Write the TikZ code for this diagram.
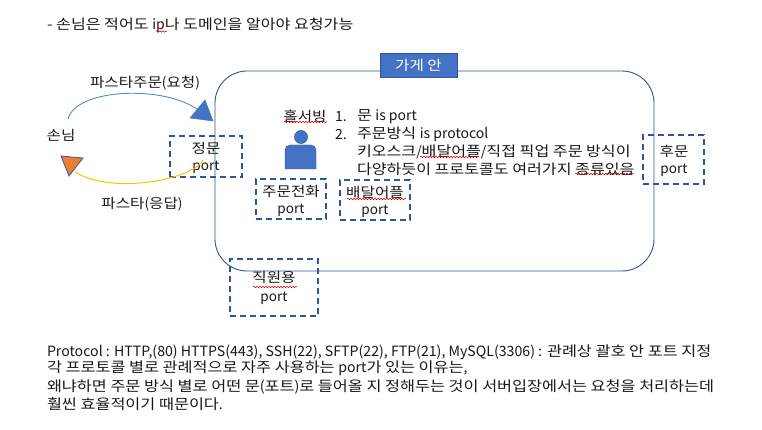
\documentclass[tikz,border=0pt]{standalone}
\usepackage{fontspec}
\setmainfont[FakeStretch=1.15]{Noto Sans CJK KR}
\newfontfamily\plainlat{Noto Sans CJK KR}
\newcommand{\ltn}[1]{{\plainlat #1}}
\usetikzlibrary{decorations.pathmorphing}
\definecolor{navy}{HTML}{2F5597}
\definecolor{blu}{HTML}{4472C4}
\definecolor{org}{HTML}{ED7D31}
\definecolor{yel}{HTML}{FFC000}
\definecolor{arcblue}{HTML}{5B85CC}
\tikzset{
 every node/.style={inner sep=0pt,outer sep=0pt,text=black!90},
 lbl/.style={font=\fontsize{13.6}{16}\selectfont,align=center,yshift=-1.5pt},
 body/.style={font=\fontsize{14}{16}\selectfont,anchor=west,yshift=-1.7pt},
 para/.style={font=\fontsize{14.15}{16}\selectfont,anchor=west,yshift=-1.7pt},
 portbox/.style={draw=navy,line width=1.7pt,dash pattern=on 6pt off 4pt},
 spell/.style={draw=red!85!black,line width=.5pt,decorate,decoration={snake,amplitude=.8pt,segment length=3pt}},
}
\begin{document}
\begin{tikzpicture}[x=1pt,y=-1pt]
\useasboundingbox (0,0) rectangle (762,430);
\fill[white] (0,0) rectangle (762,430);
% store outline
\draw[navy,line width=.9pt,rounded corners=32pt] (215,71) rectangle (654,271);
\node[draw=navy,fill=blu,line width=.8pt,minimum width=77pt,minimum height=24pt,text=white,font=\fontsize{13.6}{16}\selectfont] (store) at (418.5,65) {가게 안};

\node[body] (top) at (47,24) {- 손님은 적어도 \ltn{ip}나 도메인을 알아야 요청가능};
\node[lbl] (guest) at (61,134) {손님};
\node[lbl] (reqlabel) at (145,82) {파스타주문\ltn{(}요청\ltn{)}};
\node[lbl] (reslabel) at (142,203) {파스타\ltn{(}응답\ltn{)}};

% port boxes
\node[portbox,minimum width=72pt,minimum height=41pt] (front) at (206,156.5) {};
\node[portbox,minimum width=70pt,minimum height=40pt] (phone) at (291,199) {};
\node[portbox,minimum width=70pt,minimum height=40pt] (deliv) at (375,200) {};
\node[portbox,minimum width=61pt,minimum height=49pt] (back) at (673.5,159.5) {};
\node[portbox,minimum width=88pt,minimum height=57pt] (staff) at (274,287.5) {};

\node[lbl] at (206,147) {정문};
\node[lbl] at (206,166) {\ltn{port}};
\node[lbl] at (291,190) {주문전화};
\node[lbl] at (291,209) {\ltn{port}};
\node[lbl] at (375,191) {배달어플};
\node[lbl] at (375,210) {\ltn{port}};
\node[lbl] at (674,150) {후문};
\node[lbl] at (674,169) {\ltn{port}};
\node[lbl] at (274,276) {직원용};
\node[lbl] at (274,297) {\ltn{port}};

% arrows
\coordinate (reqstart) at (68,119);
\coordinate (reqend) at (198,110);
\coordinate (resstart) at (203,160);
\coordinate (resend) at (75,172);
\draw[arcblue,line width=.9pt] (reqstart) .. controls (76,88) and (165,85) .. (reqend);
\draw[yel,line width=1pt] (resstart) .. controls (195,178) and (115,196) .. (resend);
\filldraw[fill=blu,draw=blu,line width=.5pt] (205,100) -- (213,121) -- (190,118) -- cycle;
\filldraw[fill=org,draw=blu!80!black,line width=.8pt] (61,156) -- (83,158) -- (69,176) -- cycle;

% person
\fill[blu,draw=navy,line width=.4pt] (301,137) circle (6.6pt);
\fill[blu,draw=navy,line width=.4pt] (285,169) [rounded corners=5pt] -- (285,145) -- (316,145) [sharp corners] -- (316,169) -- cycle;

% list
\node[lbl] (host) at (305,115) {홀서빙};
\node[body] at (335,115) {\ltn{1.}};
\node[body] at (357,115) {문 \ltn{is port}};
\node[body] at (335,133) {\ltn{2.}};
\node[body] at (357,133) {주문방식 \ltn{is protocol}};
\node[body] at (357,150) {키오스크\ltn{/}배달어플\ltn{/}직접 픽업 주문 방식이};
\node[body] at (357,168) {다양하듯이 프로토콜도 여러가지 종류있음};

% bottom paragraph
\node[para] at (47,351) {\ltn{Protocol : HTTP,(80) HTTPS(443), SSH(22), SFTP(22), FTP(21), MySQL(3306) :} 관례상 괄호 안 포트 지정};
\node[para] at (47,367) {각 프로토콜 별로 관례적으로 자주 사용하는 \ltn{port}가 있는 이유는\ltn{,}};
\node[para] at (47,385) {왜냐하면 주문 방식 별로 어떤 문\ltn{(}포트\ltn{)}로 들어올 지 정해두는 것이 서버입장에서는 요청을 처리하는데};
\node[para] at (47,402) {훨씬 효율적이기 때문이다\ltn{.}};

% spell-check underlines
\draw[spell] (156,31.5) -- (167,31.5);
\draw[spell] (284,122) -- (327,122);
\draw[spell] (420,157) -- (479,157);
\draw[spell] (575,174) -- (634,174);
\draw[spell] (347,199) -- (406,199);
\draw[spell] (253,287) -- (297,287);
\end{tikzpicture}
\end{document}
